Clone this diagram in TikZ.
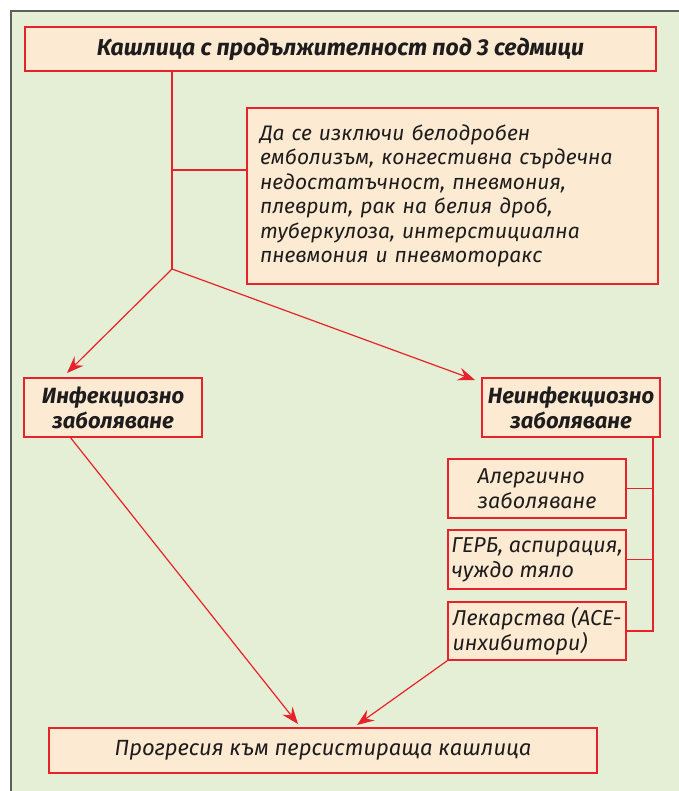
\documentclass[tikz,border=0pt]{standalone}
\usepackage{fontspec}
\setmainfont{Fira Sans}[Language=Bulgarian]
\usetikzlibrary{arrows.meta,calc}
\definecolor{boxfill}{RGB}{253,234,210}
\definecolor{boxred}{RGB}{232,34,42}
\definecolor{panelbg}{RGB}{229,239,213}
\definecolor{panelframe}{RGB}{95,95,95}
\definecolor{txt}{RGB}{30,28,28}
\begin{document}
\begin{tikzpicture}[x=1pt,y=-1pt,
  box/.style={draw=boxred,line width=1.3pt,fill=boxfill,inner sep=0pt,anchor=center,text=txt,font=\itshape\fontsize{21}{24.5}\selectfont},
  smallbox/.style={box,minimum width=178pt,align=left,font=\itshape\fontsize{21.5}{25}\selectfont},
  boldbox/.style={box,font=\bfseries\itshape\fontsize{22}{25}\selectfont,align=center},
  conn/.style={draw=boxred,line width=1.2pt},
  arr/.style={conn,-{Stealth[length=17pt,width=13pt,inset=6pt]}}]
\useasboundingbox (0,0) rectangle (678,791);
\fill[white] (0,0) rectangle (678,791);
\fill[panelbg] (11,11) rectangle (700,810);
\draw[panelframe,line width=2pt] (11,810) -- (11,11) -- (700,11);
% boxes
\node[boldbox,minimum width=631pt,minimum height=44pt,font=\bfseries\itshape\fontsize{23}{25}\selectfont] (top) at (340.5,49) {Кашлица с продължителност под 3 седмици};
\node[box,minimum width=411pt,minimum height=176pt,text width=385pt,align=left] (excl) at (452.5,196)
  {Да се изключи белодробен\\емболизъм, конгестивна сърдечна\\недостатъчност, пневмония,\\плеврит, рак на белия дроб,\\туберкулоза, интерстициална\\пневмония и пневмоторакс};
\node[boldbox,minimum width=178pt,minimum height=59pt] (inf) at (113,407.5) {Инфекциозно\\заболяване};
\node[boldbox,minimum width=178pt,minimum height=59pt] (noninf) at (571,407.5) {Неинфекциозно\\заболяване};
\node[smallbox,minimum height=59pt] (allerg) at (537,488.5) {Алергично\\заболяване};
\node[smallbox,minimum height=59pt] (gerb) at (537,559.5) {ГЕРБ, аспирация,\\чуждо тяло};
\node[smallbox,minimum height=58pt] (drug) at (537,631) {Лекарства (АСЕ-\\инхибитори)};
\node[box,minimum width=548pt,minimum height=45pt,font=\itshape\fontsize{22}{24}\selectfont] (prog) at (323,750.5) {Прогресия към персистираща кашлица};
% connectors
\coordinate (split) at (172,269);
\coordinate (br) at (172,170);
\draw[conn] (top.south -| split) -- (split);
\draw[conn] (br) -- (br -| excl.west);
\coordinate (infend) at (67,373);
\coordinate (noninfend) at (475,380);
\draw[arr] (split) -- (infend);
\draw[arr] (split) -- (noninfend);
\coordinate (rb) at (653,437);
\draw[conn] (rb) |- (drug.east);
\draw[conn] (rb |- allerg.east) -- (allerg.east);
\draw[conn] (rb |- gerb.east) -- (gerb.east);
\coordinate (infstart) at (70,437);
\coordinate (progl) at (298,724);
\coordinate (progr) at (357,725);
\draw[arr] (infstart) -- (progl);
\draw[arr] (drug.south west) -- (progr);
\end{tikzpicture}
\end{document}
